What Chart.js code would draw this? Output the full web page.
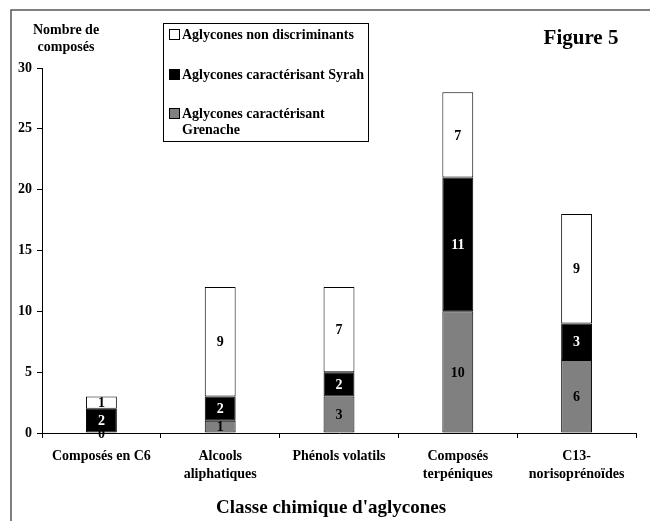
<!DOCTYPE html>
<html><head><meta charset="utf-8">
<script src="https://cdn.jsdelivr.net/npm/chart.js@4"></script>
<style>html,body{margin:0;padding:0;background:#fff}#c{display:block}</style>
</head><body>
<canvas id="c" width="650" height="521"></canvas>
<script>
const categories = [["Composés en C6"], ["Alcools", "aliphatiques"], ["Phénols volatils"], ["Composés", "terpéniques"], ["C13-", "norisoprénoïdes"]];
const grenache = [0, 1, 3, 10, 6];
const syrah = [2, 2, 2, 11, 3];
const nonDiscr = [1, 9, 7, 7, 9];
const yTicks = [0, 5, 10, 15, 20, 25, 30];
const seriesLabels = ["Aglycones caractérisant Grenache", "Aglycones caractérisant Syrah", "Aglycones non discriminants"];

const FONT = "'Liberation Serif', 'Times New Roman', serif";
const GRAY = '#808080';

const decor = {
  id: 'decor',
  beforeDatasetsDraw(chart) {
    const ctx = chart.ctx;
    ctx.save();
    ctx.font = 'bold 14px ' + FONT;
    ctx.fillStyle = '#000';
    ctx.textAlign = 'center';
    ctx.textBaseline = 'middle';
    chart.data.datasets.forEach((ds, di) => {
      chart.getDatasetMeta(di).data.forEach((bar, i) => {
        if (ds.data[i] === 0) ctx.fillText('0', bar.x, chart.chartArea.bottom + 1);
      });
    });
    ctx.restore();
  },
  afterDatasetsDraw(chart) {
    const ctx = chart.ctx;
    ctx.save();
    ctx.font = 'bold 14px ' + FONT;
    ctx.textAlign = 'center';
    ctx.textBaseline = 'middle';
    chart.data.datasets.forEach((ds, di) => {
      chart.getDatasetMeta(di).data.forEach((bar, i) => {
        const v = ds.data[i];
        if (v === 0) return;
        const p = bar.getCenterPoint();
        ctx.fillStyle = ds.backgroundColor === '#000000' ? '#fff' : '#000';
        ctx.fillText(String(v), p.x, p.y + 1);
      });
    });
    ctx.restore();
  },
  afterDraw(chart) {
    const ctx = chart.ctx;
    ctx.save();
    // frame
    ctx.strokeStyle = '#555';
    ctx.lineWidth = 1.5;
    ctx.beginPath();
    ctx.moveTo(11, 521); ctx.lineTo(11, 10); ctx.lineTo(650, 10);
    ctx.stroke();
    ctx.fillStyle = '#000';
    ctx.textBaseline = 'middle';
    // y title
    ctx.font = 'bold 14px ' + FONT;
    ctx.textAlign = 'center';
    ctx.fillText('Nombre de', 66, 30);
    ctx.fillText('composés', 66, 47);
    // x title
    ctx.font = 'bold 19px ' + FONT;
    ctx.fillText("Classe chimique d'aglycones", 331, 508);
    // Figure 5
    ctx.font = 'bold 21px ' + FONT;
    ctx.fillText('Figure 5', 581, 39);
    // legend
    ctx.strokeStyle = '#000';
    ctx.lineWidth = 1;
    ctx.strokeRect(163.5, 23.5, 205, 118);
    const ds = chart.data.datasets;
    const items = [
      {d: ds[2], lines: [ds[2].label], y: 35},
      {d: ds[1], lines: [ds[1].label], y: 75},
      {d: ds[0], lines: ["Aglycones caractérisant", "Grenache"], y: 114}
    ];
    ctx.font = 'bold 14px ' + FONT;
    ctx.textAlign = 'left';
    items.forEach(it => {
      ctx.fillStyle = it.d.backgroundColor;
      ctx.fillRect(169.5, it.y - 5.5, 10, 10);
      ctx.strokeStyle = '#000';
      ctx.strokeRect(169.5, it.y - 5.5, 10, 10);
      ctx.fillStyle = '#000';
      it.lines.forEach((l, k) => ctx.fillText(l, 182, it.y + k * 16));
    });
    ctx.restore();
  }
};

const bg = {id: 'bg', beforeDraw(c) { const x = c.ctx; x.save(); x.fillStyle = '#fff'; x.fillRect(0, 0, c.width, c.height); x.restore(); }};

new Chart(document.getElementById('c'), {
  type: 'bar',
  data: {
    labels: categories,
    datasets: [
      {label: seriesLabels[0], data: grenache, backgroundColor: GRAY},
      {label: seriesLabels[1], data: syrah, backgroundColor: '#000000'},
      {label: seriesLabels[2], data: nonDiscr, backgroundColor: '#ffffff'}
    ].map(d => Object.assign(d, {borderColor: '#000', borderWidth: 1, borderSkipped: false, barPercentage: 0.26, categoryPercentage: 1}))
  },
  options: {
    responsive: false,
    animation: false,
    events: [],
    layout: {padding: {top: 68, right: 14, left: 0, bottom: 0}},
    plugins: {legend: {display: false}, tooltip: {enabled: false}},
    scales: {
      x: {
        stacked: true,
        afterFit(s) { s.height = 88; },
        grid: {display: true, drawOnChartArea: false, drawTicks: true, tickLength: 5, color: '#000', offset: true},
        border: {color: '#000', width: 1},
        ticks: {color: '#000', padding: 9, maxRotation: 0, autoSkip: false, font: {family: FONT, size: 14, weight: 'bold', lineHeight: 1.3}}
      },
      y: {
        stacked: true,
        min: 0, max: 30,
        afterFit(s) { s.width = 42; },
        afterBuildTicks(s) { s.ticks = yTicks.map(v => ({value: v})); },
        grid: {display: true, drawOnChartArea: false, drawTicks: true, tickLength: 5, color: '#000'},
        border: {color: '#000', width: 1},
        ticks: {color: '#000', padding: 5, font: {family: FONT, size: 14, weight: 'bold'}}
      }
    }
  },
  plugins: [bg, decor]
});
</script>
</body></html>
